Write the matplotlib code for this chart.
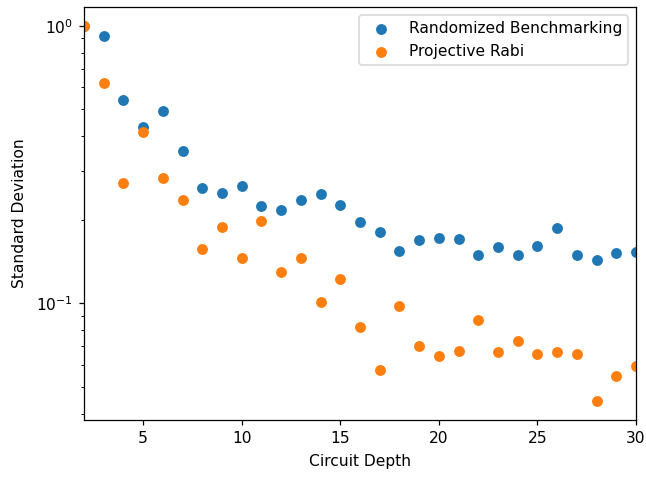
import matplotlib
matplotlib.use("Agg")
import matplotlib.pyplot as plt

depth = list(range(2, 31))
rb_std = [1.0, 0.920, 0.541, 0.432, 0.493, 0.354, 0.260, 0.249, 0.264, 0.224,
          0.217, 0.235, 0.248, 0.226, 0.196, 0.180, 0.154, 0.169, 0.172, 0.170,
          0.149, 0.159, 0.149, 0.161, 0.187, 0.149, 0.143, 0.152, 0.153]
rabi_std = [1.0, 0.623, 0.272, 0.415, 0.282, 0.235, 0.157, 0.188, 0.146, 0.197,
            0.130, 0.145, 0.101, 0.122, 0.082, 0.0573, 0.0973, 0.0703, 0.0645, 0.0671,
            0.0871, 0.0665, 0.0729, 0.0653, 0.0665, 0.0653, 0.0443, 0.0547, 0.0594]

DPI = 111.5
fig, ax = plt.subplots(figsize=(646 / DPI, 477 / DPI), dpi=DPI)
fig.subplots_adjust(left=0.130, right=0.9845, top=0.9853, bottom=0.1195)
ax.scatter(depth, rb_std, label="Randomized Benchmarking")
ax.scatter(depth, rabi_std, label="Projective Rabi")
ax.set_yscale("log")
ax.set_xlim(2, 30)
ax.set_xlabel("Circuit Depth", labelpad=5)
ax.set_ylabel("Standard Deviation", labelpad=6)
ax.legend(loc="upper right")
fig.savefig("out.png", dpi=DPI)
